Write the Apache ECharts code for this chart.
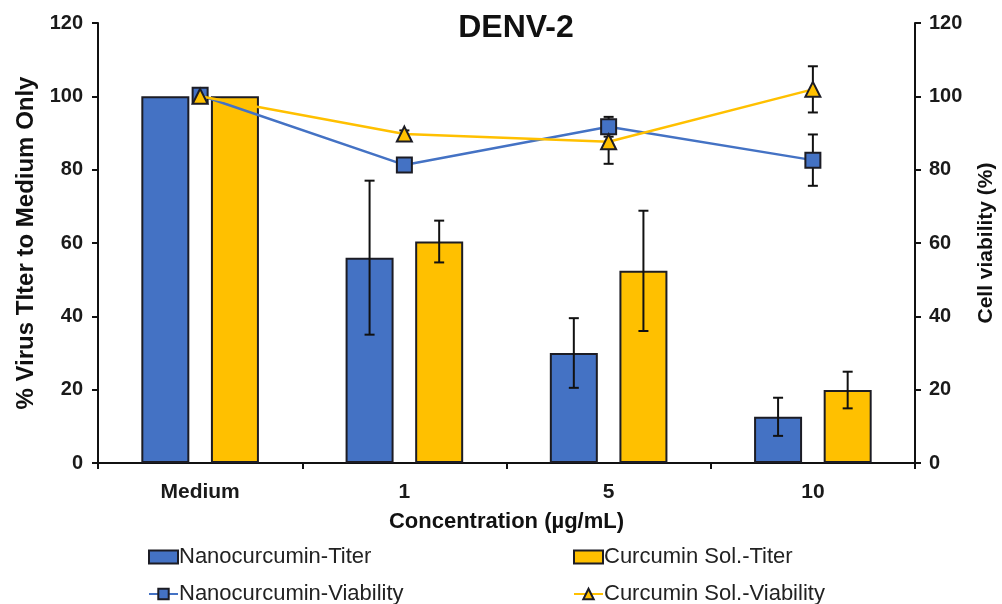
<!DOCTYPE html>
<html>
<head>
<meta charset="utf-8">
<script src="https://cdn.jsdelivr.net/npm/echarts@6/dist/echarts.min.js"></script>
<style>
  html, body { margin: 0; padding: 0; background: #fff; }
  #chart { width: 1002px; height: 604px; }
</style>
</head>
<body>
<div id="chart"></div>
<script>
// categories (concentration)
const categories = ['Medium', '1', '5', '10'];

// virus titer (% of medium only), left axis
const nanoTiter = [100, 56, 30, 12.6];
const nanoTiterErr = [0, 21, 9.5, 5.2];
const solTiter = [100, 60.4, 52.4, 19.9];
const solTiterErr = [0, 5.7, 16.4, 5];

// cell viability (%), right axis
const nanoViab = [100.3, 81.3, 91.7, 82.6];
const nanoViabErr = [0, 1, 2.7, 7];
const solViab = [100, 89.7, 87.6, 101.9];
const solViabErr = [0, 1, 6, 6.3];

const BLUE = '#4472C4';
const GOLD = '#FFC000';
const EDGE = '#1c1c24';
const FONT = 'Liberation Sans, Arial, sans-serif';

const chart = echarts.init(document.getElementById('chart'));

// bar layout (must match barWidth / barGap below)
const BAR_W = 0.235, BAR_GAP = 0.45;

// [x, low, high]
const toErr = (vals, errs) => vals.map((v, i) => [i, v - errs[i], v + errs[i]]);

// whisker renderer; slot = -1/1 for grouped bars, 0 for line points
function whisker(slot) {
  return function (params, api) {
    const cat = api.value(0);
    const lo = api.coord([cat, api.value(1)]);
    const hi = api.coord([cat, api.value(2)]);
    if (api.value(2) - api.value(1) <= 0) return null;
    const band = api.size([1, 0])[0];
    const bw = band * BAR_W, gap = bw * BAR_GAP;
    let x = lo[0];
    if (slot !== 0) x += slot * (bw + gap) / 2;
    const cap = 5;
    const st = { stroke: '#111', lineWidth: 2 };
    return {
      type: 'group',
      children: [
        { type: 'line', shape: { x1: x, y1: lo[1], x2: x, y2: hi[1] }, style: st },
        { type: 'line', shape: { x1: x - cap, y1: lo[1], x2: x + cap, y2: lo[1] }, style: st },
        { type: 'line', shape: { x1: x - cap, y1: hi[1], x2: x + cap, y2: hi[1] }, style: st }
      ]
    };
  };
}

const axisLbl = { color: '#1a1a1a', fontWeight: 'bold', fontSize: 20, fontFamily: FONT };
const axisLine = { show: true, lineStyle: { color: '#111', width: 2 } };
const axisTick = { show: true, length: 6, lineStyle: { color: '#111', width: 2 } };
const legendText = { fontSize: 22, color: '#222', fontFamily: FONT, padding: [0, 0, 0, -4] };

function legendAt(name, left, top, icon) {
  const l = { left: left, top: top, itemWidth: 29, itemHeight: 13, data: [name], textStyle: legendText };
  if (icon) l.icon = icon;
  return l;
}

const option = {
  backgroundColor: '#fff',
  animation: false,
  title: {
    text: 'DENV-2', left: 511, top: 7, textAlign: 'center',
    textStyle: { fontSize: 32, fontWeight: 'bold', color: '#111', fontFamily: FONT }
  },
  grid: { left: 98, right: 87, top: 23, bottom: 141, outerBoundsMode: 'none', containLabel: false },
  legend: [
    legendAt('Nanocurcumin-Titer', 143, 541, 'rect'),
    legendAt('Nanocurcumin-Viability', 143, 578),
    legendAt('Curcumin Sol.-Titer', 568, 541, 'rect'),
    legendAt('Curcumin Sol.-Viability', 568, 578)
  ],
  xAxis: {
    type: 'category', data: categories,
    name: 'Concentration (µg/mL)', nameLocation: 'middle', nameGap: 48,
    nameTextStyle: { fontSize: 22, fontWeight: 'bold', color: '#111', fontFamily: FONT },
    axisLine: axisLine,
    axisTick: axisTick,
    axisLabel: Object.assign({}, axisLbl, { margin: 19, fontSize: 21 })
  },
  yAxis: [
    {
      type: 'value', min: 0, max: 120, interval: 20,
      name: '% Virus TIter to Medium Only', nameLocation: 'middle', nameGap: 60, nameRotate: 90,
      nameTextStyle: { fontSize: 24, fontWeight: 'bold', color: '#111', fontFamily: FONT },
      axisLine: axisLine,
      axisTick: axisTick,
      axisLabel: Object.assign({ margin: 15 }, axisLbl),
      splitLine: { show: false }
    },
    {
      type: 'value', min: 0, max: 120, interval: 20, position: 'right',
      name: 'Cell viability (%)', nameLocation: 'middle', nameGap: 61, nameRotate: 90,
      nameTextStyle: { fontSize: 21, fontWeight: 'bold', color: '#111', fontFamily: FONT },
      axisLine: axisLine,
      axisTick: axisTick,
      axisLabel: Object.assign({ margin: 14 }, axisLbl),
      splitLine: { show: false }
    }
  ],
  series: [
    {
      name: 'Nanocurcumin-Titer', type: 'bar', data: nanoTiter,
      barWidth: (BAR_W * 100) + '%', barGap: (BAR_GAP * 100) + '%', z: 2,
      itemStyle: { color: BLUE, borderColor: EDGE, borderWidth: 2 }
    },
    {
      name: 'Curcumin Sol.-Titer', type: 'bar', data: solTiter,
      barWidth: (BAR_W * 100) + '%', barGap: (BAR_GAP * 100) + '%', z: 2,
      itemStyle: { color: GOLD, borderColor: EDGE, borderWidth: 2 }
    },
    {
      type: 'custom', renderItem: whisker(-1), data: toErr(nanoTiter, nanoTiterErr),
      encode: { x: 0, y: [1, 2] }, z: 3, silent: true
    },
    {
      type: 'custom', renderItem: whisker(1), data: toErr(solTiter, solTiterErr),
      encode: { x: 0, y: [1, 2] }, z: 3, silent: true
    },
    {
      type: 'custom', renderItem: whisker(0), data: toErr(nanoViab, nanoViabErr), yAxisIndex: 1,
      encode: { x: 0, y: [1, 2] }, z: 4, silent: true
    },
    {
      type: 'custom', renderItem: whisker(0), data: toErr(solViab, solViabErr), yAxisIndex: 1,
      encode: { x: 0, y: [1, 2] }, z: 4, silent: true
    },
    {
      name: 'Nanocurcumin-Viability', type: 'line', yAxisIndex: 1, data: nanoViab, z: 5,
      symbol: 'rect', symbolSize: 15,
      lineStyle: { color: BLUE, width: 2.5 },
      itemStyle: { color: BLUE, borderColor: EDGE, borderWidth: 2 }
    },
    {
      name: 'Curcumin Sol.-Viability', type: 'line', yAxisIndex: 1, data: solViab, z: 6,
      symbol: 'triangle', symbolSize: 15,
      lineStyle: { color: GOLD, width: 2.5 },
      itemStyle: { color: GOLD, borderColor: EDGE, borderWidth: 2 }
    }
  ]
};

chart.setOption(option);
</script>
</body>
</html>
